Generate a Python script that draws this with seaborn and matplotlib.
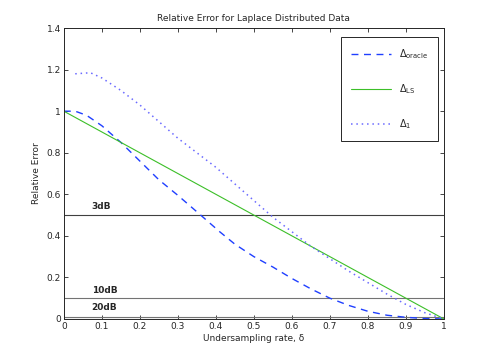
import numpy as np
import matplotlib
matplotlib.use("Agg")
import matplotlib.pyplot as plt
import seaborn as sns
from matplotlib.ticker import FormatStrFormatter

# dane
delta_oracle_x = [0, 0.03, 0.06, 0.1, 0.15, 0.2, 0.25, 0.3, 0.36, 0.41, 0.45, 0.5, 0.55, 0.6,
                  0.65, 0.7, 0.75, 0.8, 0.85, 0.9, 0.95, 1.0]
delta_oracle_y = [1.0, 1.0, 0.98, 0.93, 0.85, 0.76, 0.67, 0.595, 0.5, 0.42, 0.36, 0.3, 0.25, 0.195,
                  0.145, 0.1, 0.065, 0.037, 0.018, 0.008, 0.002, 0.0]

delta_ls_x = [0, 1.0]
delta_ls_y = [1.0, 0.0]

delta_1_x = [0.03, 0.07, 0.1, 0.15, 0.2, 0.25, 0.3, 0.35, 0.4, 0.45, 0.5, 0.55, 0.6, 0.65,
             0.7, 0.75, 0.8, 0.85, 0.9, 0.95, 1.0]
delta_1_y = [1.18, 1.185, 1.16, 1.1, 1.03, 0.95, 0.87, 0.8, 0.73, 0.65, 0.57, 0.49, 0.42, 0.35,
             0.29, 0.23, 0.175, 0.12, 0.07, 0.03, 0.0]

progi = [0.5, 0.1, 0.01, 0.001]
progi_etykiety = ["3dB", "10dB", "20dB"]
progi_etykiety_y = [0.52, 0.115, 0.032]

sns.set_style("ticks", {"xtick.direction": "in", "ytick.direction": "in"})
plt.rcParams["font.family"] = ["DejaVu Sans"]
plt.rcParams["mathtext.fontset"] = "dejavusans"

fig = plt.figure(figsize=(4.91, 3.6), dpi=100)
ax = fig.add_axes([0.130, 0.114, 0.774, 0.808])

sns.lineplot(x=delta_oracle_x, y=delta_oracle_y, ax=ax, color="#1f3fff", linestyle=(0, (5, 4)),
             linewidth=1.0, label=r"$\Delta_{\mathrm{oracle}}$")
sns.lineplot(x=delta_ls_x, y=delta_ls_y, ax=ax, color="#3cbf28", linewidth=0.8,
             label=r"$\Delta_{\mathrm{LS}}$")
sns.lineplot(x=delta_1_x, y=delta_1_y, ax=ax, color="#6a6aff", linestyle=(0, (1, 2.5)),
             linewidth=1.1, label=r"$\Delta_{1}$")

for i, p in enumerate(progi):
    ax.axhline(p, color="0.25" if i == 0 else "0.45", linewidth=0.8, zorder=1)
for txt, yy in zip(progi_etykiety, progi_etykiety_y):
    ax.text(0.073, yy, txt, fontsize=6.5, fontweight="bold", va="bottom", ha="left")

ax.set_xlim(0, 1)
ax.set_ylim(0, 1.4)
ax.set_xticks(np.arange(0, 1.01, 0.1))
ax.set_yticks(np.arange(0, 1.41, 0.2))
ax.xaxis.set_major_formatter(FormatStrFormatter("%g"))
ax.yaxis.set_major_formatter(FormatStrFormatter("%g"))
ax.tick_params(axis="both", labelsize=6.5, length=3, width=0.6, top=True, right=True, pad=2)
for s in ax.spines.values():
    s.set_visible(True)
    s.set_linewidth(0.7)
    s.set_color("0.15")

ax.set_xlabel("Undersampling rate, δ", fontsize=6.5, labelpad=2)
ax.set_ylabel("Relative Error", fontsize=6.5, labelpad=4)
ax.set_title("Relative Error for Laplace Distributed Data", fontsize=6.5, pad=5)

leg = ax.legend(loc="upper right", fontsize=7, labelspacing=2.2, handlelength=4.2,
                borderpad=1.0, fancybox=False, framealpha=1, edgecolor="0.15",
                bbox_to_anchor=(0.998, 0.985))
leg.get_frame().set_linewidth(0.7)

plt.savefig("out.png", dpi=100)
